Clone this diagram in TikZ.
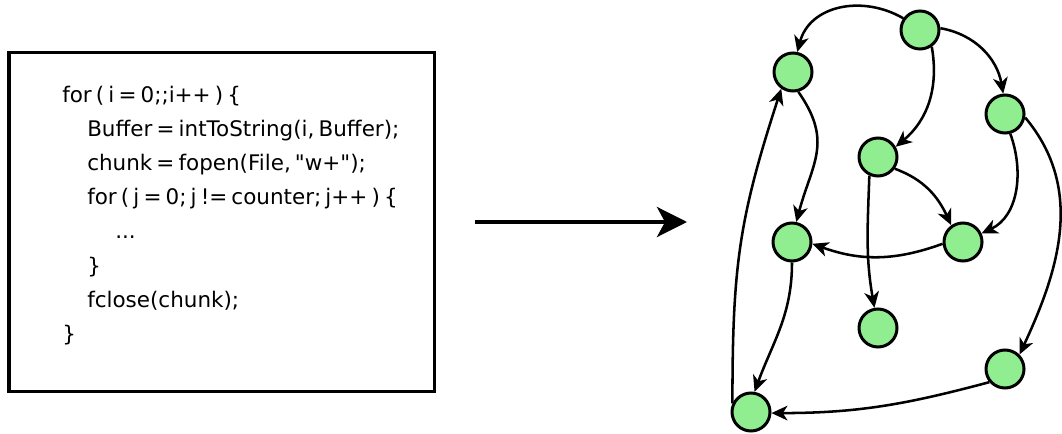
\documentclass[tikz,border=0pt]{standalone}
\usepackage{fontspec}
\setmainfont{DejaVu Sans}
\newfontfamily\codefont{DejaVu Sans}
\newcommand\mycodesetup{\codefont\fontsize{16.1}{19}\selectfont\spaceskip=3.1pt\relax}
\usetikzlibrary{arrows.meta}
\definecolor{nodegreen}{RGB}{144,238,144}
\begin{document}
\begin{tikzpicture}[x=0.75pt,y=0.75pt,
  vtx/.style={circle,draw=black,line width=2.25pt,fill=nodegreen,minimum size=28.5pt,inner sep=0pt},
  edge/.style={line width=1.9pt,-{Stealth[length=12pt,width=11pt,inset=3.5pt]}},
  bigarrow/.style={line width=3pt,-{Stealth[length=22.5pt,width=22.5pt,inset=6pt]}},
  codeline/.style={anchor=base west,inner sep=0pt,font=\mycodesetup},
  codebox/.style={draw=black,line width=2.5pt,minimum width=319pt,minimum height=254.5pt,inner sep=0pt}
  ]
\useasboundingbox (0,0) rectangle (1062,-434);
% code box
\node[codebox] (box) at (221.7,-222) {};
\node[codeline] (l1) at (62,-103) {for ( i = 0;;i++ ) \{};
\node[codeline] (l2) at (87,-137) {Buffer = intToString(i, Buffer);};
\node[codeline] (l3) at (87,-171) {chunk = fopen(File, "w+");};
\node[codeline] (l4) at (87,-205) {for ( j = 0; j != counter; j++ ) \{};
\node[codeline] (l5) at (115,-239) {...};
\node[codeline] (l6) at (87,-273) {\}};
\node[codeline] (l7) at (87,-307) {fclose(chunk);};
\node[codeline] (l8) at (62,-341) {\}};
% main arrow
\coordinate (as) at (475,-222);
\coordinate (ae) at (687,-222);
\draw[bigarrow] (as) -- (ae);
% graph nodes
\node[vtx] (T) at (920,-30) {};
\node[vtx] (A) at (793,-72) {};
\node[vtx] (B) at (1005,-114) {};
\node[vtx] (C) at (878,-157) {};
\node[vtx] (D) at (792,-242) {};
\node[vtx] (E) at (963,-242) {};
\node[vtx] (F) at (878,-328) {};
\node[vtx] (G) at (1005,-369) {};
\node[vtx] (H) at (751,-412) {};
% edges
\draw[edge] (T.145) to[out=150,in=75,looseness=1.1] (A.78);
\draw[edge] (T.5) to[out=-10,in=100] (B.95);
\draw[edge] (T.-55) to[out=-80,in=40] (C.30);
\draw[edge] (A.-75) to[out=-55,in=75,looseness=1.2] (D.78);
\draw[edge] (C.-35) to[out=-20,in=115] (E.125);
\draw[edge] (B.-75) to[out=-70,in=25] (E.25);
\draw[edge] (E.185) to[out=200,in=-20] (D.-5);
\draw[edge] (C.-115) to[out=-92,in=100] (F.100);
\draw[edge] (B.-10) to[out=-50,in=65] (G.45);
\draw[edge] (D.-90) to[out=-90,in=70] (H.80);
\draw[edge] (G.-140) to[out=195,in=0] (H.-3);
\draw[edge] (H.155) to[out=90,in=-108,looseness=1.1] (A.-125);
\end{tikzpicture}
\end{document}
